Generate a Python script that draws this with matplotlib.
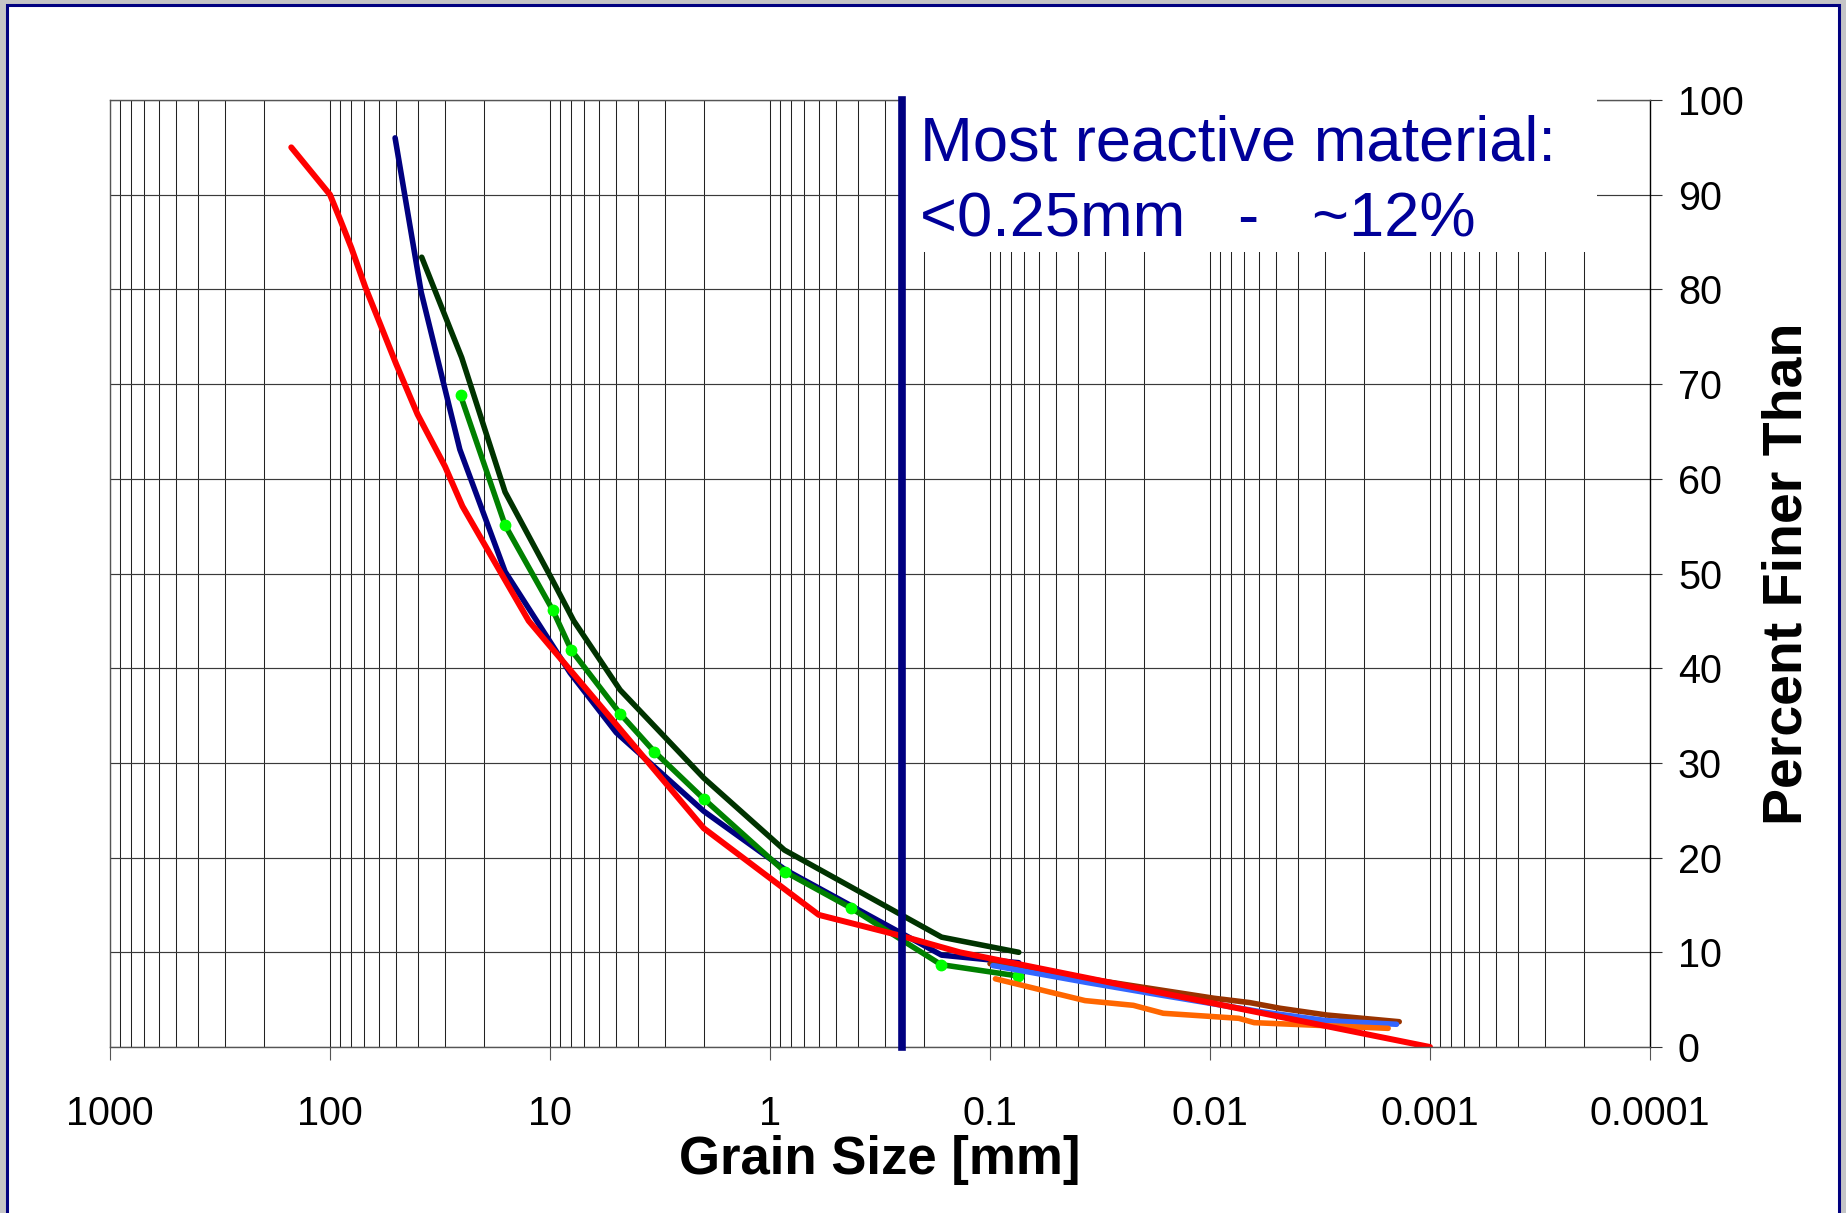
import matplotlib
matplotlib.use('Agg')
import matplotlib.pyplot as plt
from matplotlib.patches import Rectangle
from matplotlib.ticker import FixedLocator, LogLocator, NullFormatter

plt.rcParams['font.family'] = ['Liberation Sans', 'DejaVu Sans']

# grain size [mm] vs percent finer than [%]
red_size = [150, 100, 90, 80, 69, 60, 50, 40, 30, 25, 12.5, 2.0, 0.6, 0.25, 0.137, 0.001]
red_pct = [95.0, 90.0, 87.4, 84.4, 80.2, 76.7, 72.1, 66.8, 61.3, 57.1, 45.0, 23.1, 13.95, 11.7, 10.0, 0.0]

navy_size = [50.6, 38.5, 25.7, 16.0, 8.1, 5.0, 2.0, 0.85, 0.166, 0.074]
navy_pct = [96.0, 79.7, 63.1, 50.2, 39.5, 33.2, 24.9, 18.7, 9.7, 8.9]

dkgreen_size = [38.3, 25.2, 16.0, 9.8, 7.8, 4.8, 2.0, 0.86, 0.166, 0.074]
dkgreen_pct = [83.4, 72.8, 58.6, 49.4, 45.0, 37.7, 28.4, 20.8, 11.6, 10.0]

green_size = [25.5, 16.0, 9.7, 8.0, 4.8, 3.36, 2.0, 0.855, 0.43, 0.167, 0.0747]
green_pct = [68.8, 55.1, 46.1, 41.9, 35.2, 31.2, 26.2, 18.5, 14.7, 8.7, 7.5]

orange_size = [0.0945, 0.037, 0.0223, 0.0163, 0.0074, 0.0063, 0.00155]
orange_pct = [7.2, 4.9, 4.4, 3.56, 3.03, 2.57, 1.97]

ltblue_size = [0.097, 0.036, 0.0169, 0.0059, 0.00295, 0.00142]
ltblue_pct = [8.6, 6.8, 5.5, 3.73, 2.78, 2.4]

brown_size = [0.1, 0.0096, 0.0066, 0.0048, 0.00295, 0.00138]
brown_pct = [8.8, 5.15, 4.69, 4.09, 3.38, 2.67]

x_ticks = [1000, 100, 10, 1, 0.1, 0.01, 0.001, 0.0001]
x_tick_labels = ['1000', '100', '10', '1', '0.1', '0.01', '0.001', '0.0001']
y_ticks = [0, 10, 20, 30, 40, 50, 60, 70, 80, 90, 100]
reactive_limit = 0.25
note_lines = ['Most reactive material:', '<0.25mm   -   ~12%']

fig = plt.figure(figsize=(18.46, 12.13), dpi=100, facecolor='#c4c4c6')
# white slide panel with navy frame (bottom edge cut off)
fig.patches.append(Rectangle((0.00406, -0.05), 0.99215, 1.04547, transform=fig.transFigure,
                             facecolor='white', edgecolor='#000080', linewidth=2.2, zorder=-1))

ax = fig.add_axes([0.05959, 0.13685, 0.83424, 0.78071])
ax.set_facecolor('white')
ax.set_axisbelow(True)

style = dict(linewidth=4.0, solid_capstyle='round', solid_joinstyle='round')
ax.plot(navy_size, navy_pct, color='#000080', **style)
ax.plot(dkgreen_size, dkgreen_pct, color='#003300', **style)
ax.plot(green_size, green_pct, color='#008000', marker='o', markersize=7.5,
        markerfacecolor='#00ff00', markeredgecolor='#00ff00', **style)
ax.plot(brown_size, brown_pct, color='#993300', **style)
ax.plot(ltblue_size, ltblue_pct, color='#3366ff', **style)
ax.plot(orange_size, orange_pct, color='#ff6600', **style)
ax.plot(red_size, red_pct, color='#ff0000', linewidth=4.3, solid_capstyle='round', solid_joinstyle='round')

ax.axvline(reactive_limit, color='#000080', linewidth=5.5, solid_capstyle='projecting',
           clip_on=False, zorder=6)

ax.set_xscale('log')
ax.set_xlim(1000, 0.0001)
ax.set_ylim(0, 100)
ax.xaxis.set_major_locator(FixedLocator(x_ticks))
ax.set_xticklabels(x_tick_labels)
ax.xaxis.set_minor_locator(LogLocator(base=10, subs=range(2, 10), numticks=30))
ax.xaxis.set_minor_formatter(NullFormatter())
ax.set_yticks(y_ticks)
ax.yaxis.tick_right()
ax.yaxis.set_label_position('right')

ax.tick_params(axis='x', which='major', direction='out', length=9.4, width=0.8,
               color='#555555', labelsize=28.5, pad=25)
ax.tick_params(axis='x', which='minor', length=0)
ax.tick_params(axis='y', which='major', direction='out', length=8.6, width=0.8,
               color='#333333', labelsize=28.5, pad=11.5)

ax.grid(True, which='both', axis='x', color='#222222', linewidth=0.75)
ax.grid(True, which='major', axis='y', color='#3a3a3a', linewidth=0.85)
for side in ['left', 'top', 'bottom']:
    ax.spines[side].set_color('#555555')
    ax.spines[side].set_linewidth(1.0)
ax.spines['right'].set_color('black')
ax.spines['right'].set_linewidth(1.0)

ax.set_xlabel('Grain Size [mm]', fontsize=38, fontweight='bold', labelpad=1.5)
ax.set_ylabel('Percent Finer Than', fontsize=40, fontweight='bold', labelpad=13)

# white box behind the note hides the grid there
ax.add_patch(Rectangle((0.5162, 0.8395), 0.4494, 0.17, transform=ax.transAxes,
                       facecolor='white', edgecolor='none', clip_on=False, zorder=4))
ax.text(0.526, 0.9366, note_lines[0], transform=ax.transAxes, fontsize=45.5,
        color='#000099', ha='left', va='baseline', zorder=7)
ax.text(0.526, 0.8558, note_lines[1], transform=ax.transAxes, fontsize=45.5,
        color='#000099', ha='left', va='baseline', zorder=7)

fig.savefig('out.png', dpi=100, facecolor=fig.get_facecolor())
